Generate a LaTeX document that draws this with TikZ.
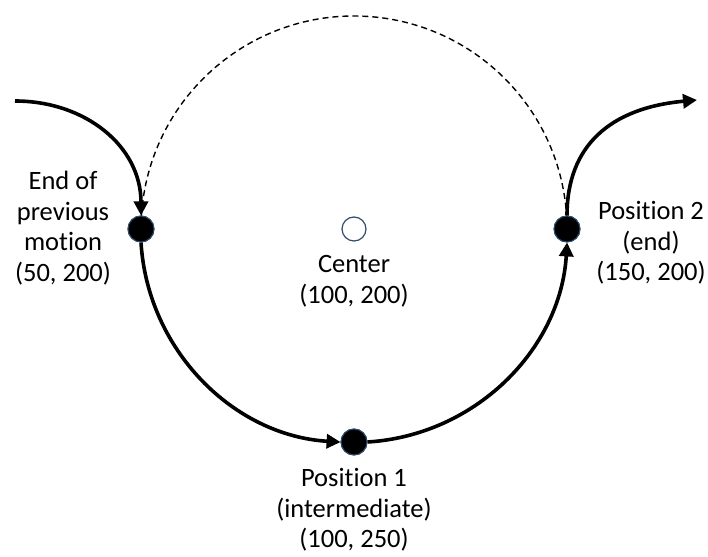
\documentclass[tikz,border=0pt]{standalone}
\usepackage{fontspec}
\setmainfont[Ligatures=NoCommon]{Carlito}
\usetikzlibrary{arrows.meta}
\definecolor{dotedge}{HTML}{2F4B6E}
\tikzset{
  pt/.style={circle, fill=black, draw=dotedge, line width=1pt, minimum size=26pt, inner sep=0pt},
  ctr/.style={circle, fill=white, draw=dotedge, line width=1.2pt, minimum size=24pt, inner sep=0pt},
  lbl/.style={align=center, font=\fontsize{26.5}{30.5}\selectfont, inner sep=0pt},
  motion/.style={line width=3.6pt, -{Triangle[length=14pt,width=14pt]}},
  path2/.style={line width=1.4pt, dash pattern=on 6pt off 4pt},
}
\begin{document}
\begin{tikzpicture}[x=1pt,y=1pt]
\useasboundingbox (0,0) rectangle (708,556);
% dashed upper half
\draw[path2] (354,327) ++(176.5:213) arc[start angle=176.5, end angle=3.5, radius=213];
\coordinate (s) at (15,455);
\coordinate (e) at (697,456);
\node[pt] (L) at (141,327) {};
\node[pt] (R) at (567,327) {};
\node[pt] (B) at (354,114) {};
\node[ctr] (C) at (354,327) {};
\draw[motion] (s) .. controls (85,455) and (141,410) .. (L.north);
\draw[motion] (L.south) arc[start angle=183.5, end angle=266.5, radius=213];
\draw[motion] (B.east) arc[start angle=273.5, end angle=356.5, radius=213];
\draw[motion] (R.north) .. controls (567,410) and (610,448) .. (e);
\node[pt] at (L) {};
\node[pt] at (R) {};
\node[pt] at (B) {};
% labels
\node[lbl] (tL) at (63,328) {End of\\previous\\motion\\(50, 200)};
\node[lbl] (tC) at (354,275) {Center\\(100, 200)};
\node[lbl] (tR) at (651,313) {Position 2\\(end)\\(150, 200)};
\node[lbl] (tB) at (354,46) {Position 1\\(intermediate)\\(100, 250)};
\end{tikzpicture}
\end{document}
